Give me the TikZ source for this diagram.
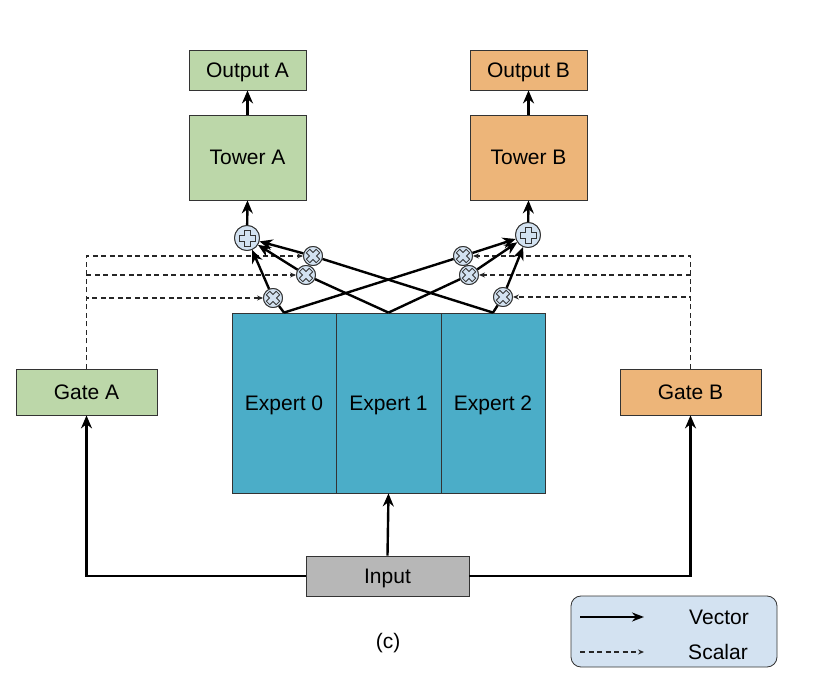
\documentclass[tikz,border=0pt]{standalone}
\usepackage{fontspec}
\setmainfont{Liberation Sans}
\usetikzlibrary{arrows.meta}
\definecolor{cgreen}{HTML}{BCD7A9}
\definecolor{corange}{HTML}{EDB579}
\definecolor{cblue}{HTML}{4BADC8}
\definecolor{cgray}{HTML}{B7B7B7}
\definecolor{ccirc}{HTML}{D3E2F1}
\definecolor{cleg}{HTML}{D3E2F1}
\definecolor{cedge}{HTML}{333333}
\tikzset{
  box/.style={draw=cedge, line width=0.8pt, inner sep=0pt, text height=15pt, text depth=0pt, font=\fontsize{21}{24}\selectfont},
  vec/.style={line width=2.4pt, -{Stealth[length=13pt,width=11pt]}},
  vline/.style={line width=2.4pt},
  scalar/.style={line width=1.1pt, draw=black!85, dash pattern=on 5pt off 3.5pt, -{Stealth[length=6pt,width=5pt]}},
  addnode/.style={circle, draw=cedge, line width=0.9pt, fill=ccirc, minimum size=25pt, inner sep=0pt,
    path picture={\draw[cedge, line width=0.9pt, shift={(path picture bounding box.center)}]
      (-3,-8) -- (3,-8) -- (3,-3) -- (8,-3) -- (8,3) -- (3,3) -- (3,8) -- (-3,8) -- (-3,3) -- (-8,3) -- (-8,-3) -- (-3,-3) -- cycle;}},
  mulnode/.style={circle, draw=cedge, line width=0.9pt, fill=ccirc, minimum size=19pt, inner sep=0pt,
    path picture={\draw[cedge, line width=0.8pt, shift={(path picture bounding box.center)}]
      (3.18,-6.72) -- (6.72,-3.18) -- (3.54,0) -- (6.72,3.18) -- (3.18,6.72) -- (0,3.54) -- (-3.18,6.72) -- (-6.72,3.18) -- (-3.54,0) -- (-6.72,-3.18) -- (-3.18,-6.72) -- (0,-3.54) -- cycle;}},
  lbl/.style={font=\fontsize{21}{24}\selectfont, inner sep=0pt, text height=15pt, text depth=0pt}
}
\begin{document}
\begin{tikzpicture}[x=1pt,y=-1pt]
\useasboundingbox (0,0) rectangle (820,700);
% boxes
\node[box, fill=cgreen, minimum width=117pt, minimum height=40pt] (oA) at (247.5,70) {Output A};
\node[box, fill=cgreen, minimum width=117pt, minimum height=85pt] (tA) at (247.5,157.5) {Tower A};
\node[box, fill=corange, minimum width=117pt, minimum height=40pt] (oB) at (528.5,70) {Output B};
\node[box, fill=corange, minimum width=117pt, minimum height=85pt] (tB) at (528.5,157.5) {Tower B};
\node[box, fill=cgreen, minimum width=141pt, minimum height=46pt] (gA) at (86.5,392) {Gate A};
\node[box, fill=corange, minimum width=141pt, minimum height=46pt] (gB) at (690.5,392) {Gate B};
\node[box, fill=cblue, minimum width=104pt, minimum height=180pt] (e0) at (284,403) {Expert 0};
\node[box, fill=cblue, minimum width=105pt, minimum height=180pt] (e1) at (388.5,403) {Expert 1};
\node[box, fill=cblue, minimum width=104pt, minimum height=180pt] (e2) at (493,403) {Expert 2};
\node[box, fill=cgray, minimum width=163pt, minimum height=40pt] (in) at (387.5,576) {Input};
% combine nodes
\node[addnode] (pA) at (247,238) {};
\node[addnode] (pB) at (528,235) {};
\node[mulnode] (mA1) at (313,256) {};
\node[mulnode] (mA2) at (306,275) {};
\node[mulnode] (mA3) at (273,298) {};
\node[mulnode] (mB1) at (463,256) {};
\node[mulnode] (mB2) at (469,275) {};
\node[mulnode] (mB3) at (503,297) {};
% scalar gate lines
\draw[scalar] (gA.north) |- (mA1);
\draw[scalar] (gA.north) |- (mA2);
\draw[scalar] (gA.north) |- (mA3);
\draw[scalar] (gB.north) |- (mB1);
\draw[scalar] (gB.north) |- (mB2);
\draw[scalar] (gB.north) |- (mB3);
% expert outputs
\draw[vline] (e0.north) -- (mA3);
\draw[vline] (e0.north) -- (mB1);
\draw[vline] (e1.north) -- (mA2);
\draw[vline] (e1.north) -- (mB2);
\draw[vline] (e2.north) -- (mA1);
\draw[vline] (e2.north) -- (mB3);
\draw[vec] (mA1) -- (pA);
\draw[vec] (mA2) -- (pA);
\draw[vec] (mA3) -- (pA);
\draw[vec] (mB1) -- (pB);
\draw[vec] (mB2) -- (pB);
\draw[vec] (mB3) -- (pB);
% redraw circles on top
\node[addnode] at (pA) {};
\node[addnode] at (pB) {};
\node[mulnode] at (mA1) {};
\node[mulnode] at (mA2) {};
\node[mulnode] at (mA3) {};
\node[mulnode] at (mB1) {};
\node[mulnode] at (mB2) {};
\node[mulnode] at (mB3) {};
% towers
\draw[vec] (pA) -- (tA.south);
\draw[vec] (pB) -- (tB.south);
\draw[vec] (tA.north) -- (oA.south);
\draw[vec] (tB.north) -- (oB.south);
% input
\draw[vec] (in.north) -- (e1.south);
\draw[vec] (in.west) -| (gA.south);
\draw[vec] (in.east) -| (gB.south);
% caption
\node[lbl] (cap) at (388,641) {(c)};
% legend
\node[draw=cedge, line width=0.8pt, fill=cleg, rounded corners=10pt, minimum width=206pt, minimum height=71pt] (leg) at (674,631.5) {};
\coordinate (v1) at (580,617);
\coordinate (v2) at (644,617);
\coordinate (s1) at (580,652);
\coordinate (s2) at (644,652);
\draw[vec, -{Stealth[length=12pt,width=9pt]}] (v1) -- (v2);
\draw[scalar] (s1) -- (s2);
\node[lbl] (vt) at (719,617) {Vector};
\node[lbl] (st) at (718,652) {Scalar};
\end{tikzpicture}
\end{document}
